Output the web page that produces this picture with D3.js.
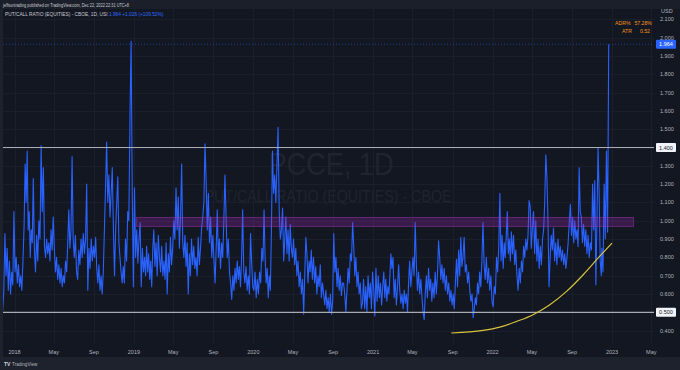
<!DOCTYPE html>
<html>
<head>
<meta charset="utf-8">
<script src="https://cdn.jsdelivr.net/npm/d3@7/dist/d3.min.js"></script>
<style>
html,body{margin:0;padding:0;background:#131722;}
svg{display:block;}
text{font-family:"Liberation Sans","DejaVu Sans",Arial,sans-serif;}
</style>
</head>
<body>
<svg id="chart" width="680" height="370"></svg>
<script>
// ---------------- DATA (PCCE, values, ~2 per week) ----------------
const pcce2017 = [ // starts Nov 2017
  [0.72,0.64,0.78,0.66,0.74,0.60,0.70,0.51,0.62],
  [0.93,0.70,0.85,0.62,0.78,0.60,0.72,0.65,1.05]
];
const pcce2018 = [
  [0.72,0.80,0.66,0.76,0.64,0.70,0.62,0.78,0.97],
  [1.31,1.10,1.38,0.95,1.05,0.80,0.95,0.88,1.23],
  [0.85,0.72,0.92,0.78,1.00,0.90,1.41,1.05,1.29],
  [0.86,0.80,0.90,0.82,0.88,0.78,0.95,0.84,1.02],
  [0.85,0.72,0.80,0.68,0.76,0.66,0.74,0.64,0.70],
  [0.66,0.78,0.72,0.88,1.06,0.85,0.95,1.35,0.90],
  [0.80,0.92,0.72,0.68,0.84,0.76,0.90,0.80,0.93],
  [0.82,0.90,1.20,0.62,0.85,0.74,0.90,0.78,0.86],
  [0.80,0.91,0.74,0.66,0.76,0.62,0.70,0.60,0.72],
  [0.95,1.18,1.43,1.10,1.25,1.02,1.15,1.29,0.95],
  [0.70,0.95,1.10,1.24,0.88,0.80,0.72,0.66,0.75],
  [0.66,0.90,0.78,1.05,1.00,1.57,1.98,1.15,0.64]
];
const pcce2019 = [
  [1.18,0.80,0.95,0.77,0.90,0.99,0.64,0.85,0.72],
  [0.80,0.70,0.86,0.72,0.82,0.68,0.78,0.64,0.84],
  [0.95,0.75,0.88,0.70,0.92,0.80,0.72,0.86,0.70],
  [0.78,0.68,0.88,0.60,0.82,0.72,0.91,0.76,0.85],
  [1.00,0.90,1.18,0.95,1.13,0.85,1.02,1.31,0.88],
  [0.80,0.92,0.75,0.88,0.60,0.82,0.70,0.90,0.76],
  [0.86,0.74,0.80,0.70,0.91,0.76,0.85,0.96,1.02],
  [1.10,1.42,1.22,0.95,1.15,0.88,1.02,0.80,0.92],
  [0.78,0.66,0.85,1.06,0.80,0.90,0.74,0.88,0.80],
  [1.00,1.25,1.02,0.80,0.90,0.72,0.66,0.57,0.70],
  [0.62,0.74,0.66,0.78,0.68,0.75,0.64,0.80,1.06],
  [0.72,0.66,0.75,0.62,0.70,0.60,0.93,0.77,0.64]
];
const pcce2020 = [
  [0.62,0.72,0.58,0.68,0.60,0.72,0.66,0.85,0.78],
  [1.06,0.80,0.66,0.74,0.58,0.70,0.62,0.95,1.38],
  [1.15,1.25,1.10,1.30,1.51,1.05,0.90,0.95,1.07],
  [0.78,0.90,1.02,0.82,0.95,0.78,0.98,0.85,0.80],
  [0.90,0.76,0.85,0.70,0.78,0.64,0.72,0.60,0.68],
  [0.49,0.70,0.91,0.82,0.66,0.78,0.72,0.84,0.68],
  [0.80,0.66,0.75,0.60,0.70,0.64,0.76,0.58,0.66],
  [0.60,0.54,0.62,0.52,0.58,0.50,0.60,0.49,0.56],
  [0.93,0.72,0.80,0.64,0.74,0.62,0.70,0.59,0.66],
  [0.66,0.60,0.50,0.62,0.74,0.66,0.82,0.78,0.99],
  [0.86,0.70,0.80,0.64,0.72,0.60,0.66,0.52,0.55],
  [0.68,0.52,0.64,0.50,0.70,0.58,0.66,0.52,0.72]
];
const pcce2021 = [
  [0.62,0.48,0.74,0.56,0.70,0.58,0.66,0.54,0.64],
  [0.72,0.58,0.68,0.56,0.64,0.60,0.70,0.82,0.74],
  [0.80,0.58,0.68,0.54,0.64,0.76,0.62,0.55,0.60],
  [0.52,0.62,0.55,0.60,0.50,0.66,0.78,0.64,0.72],
  [0.80,0.70,0.99,0.76,0.62,0.72,0.60,0.68,0.58],
  [0.50,0.46,0.60,0.70,0.58,0.74,0.62,0.68,0.56],
  [0.66,0.58,0.72,0.60,0.70,0.89,0.80,0.68,0.76],
  [0.66,0.74,0.62,0.70,0.60,0.66,0.56,0.62,0.54],
  [0.60,0.52,0.66,0.79,0.64,0.84,0.70,0.91,0.75],
  [0.80,0.91,0.72,0.76,0.66,0.72,0.62,0.56,0.60],
  [0.47,0.52,0.58,0.54,0.66,0.60,0.72,0.64,0.78],
  [0.99,0.76,0.68,0.80,0.66,0.74,0.62,0.70,0.56]
];
const pcce2022 = [
  [0.53,0.64,0.60,0.80,0.72,0.86,1.15,0.78,0.92],
  [0.74,0.88,0.80,0.92,1.05,0.82,0.90,0.78,0.94],
  [0.82,0.92,0.76,0.84,0.70,0.62,0.74,0.66,0.78],
  [0.72,0.86,0.80,0.90,0.84,0.92,1.11,1.08,0.85],
  [0.96,1.05,0.82,1.00,0.78,0.90,0.74,0.86,0.76],
  [0.90,0.95,1.10,1.36,1.24,1.00,0.64,0.80,0.92],
  [0.84,0.96,0.78,0.88,0.76,0.90,0.80,0.86,0.78],
  [0.84,0.76,0.82,0.74,0.80,0.88,0.99,1.09,0.92],
  [1.02,0.88,1.00,0.90,0.95,0.86,1.29,1.05,1.02],
  [0.88,0.98,0.86,0.95,0.82,0.92,0.80,0.88,0.84],
  [1.20,0.95,1.22,0.65,1.00,1.40,1.15,0.78,0.70],
  [0.85,0.72,1.20,0.90,1.38,0.938,1.964]   // Dec 1 .. Dec 22
];
const seriesYears = [
  {year: 2017, firstMonth: 10, months: pcce2017},
  {year: 2018, firstMonth: 0, months: pcce2018},
  {year: 2019, firstMonth: 0, months: pcce2019},
  {year: 2020, firstMonth: 0, months: pcce2020},
  {year: 2021, firstMonth: 0, months: pcce2021},
  {year: 2022, firstMonth: 0, months: pcce2022}
];
const lastDate = new Date(2022, 11, 22);
const lastValue = 1.964;

// drawings
const levelLines = [1.4, 0.5];
const levelLabels = ["1.400", "0.500"];
const bandValues = [0.969, 1.018];
const bandDates = ["2019-01-09", "2023-03-08"];
const arcDates = ["2021-08-28","2021-12-03","2022-01-23","2022-03-15","2022-05-05","2022-06-25","2022-08-15","2022-10-05","2022-11-24","2023-01-01"];
const arcValues = [0.387,0.401,0.419,0.450,0.487,0.541,0.614,0.705,0.805,0.878];

// axes
const priceTicks = [2.1,2.0,1.9,1.8,1.7,1.6,1.5,1.4,1.3,1.2,1.1,1.0,0.9,0.8,0.7,0.6,0.5,0.4];
const timeTicks = ["2018-01-01","2018-05-01","2018-09-01","2019-01-01","2019-05-01","2019-09-01","2020-01-01","2020-05-01","2020-09-01","2021-01-01","2021-05-01","2021-09-01","2022-01-01","2022-05-01","2022-09-01","2023-01-01","2023-05-01"];
const timeTickLabels = ["2018","May","Sep","2019","May","Sep","2020","May","Sep","2021","May","Sep","2022","May","Sep","2023","May"];

// ---------------- BUILD ----------------
const parse = d3.timeParse("%Y-%m-%d");
const points = [];
seriesYears.forEach(({year, firstMonth, months}) => {
  months.forEach((vals, k) => {
    const m = firstMonth + k;
    const start = new Date(year, m, 1);
    const next = new Date(year, m + 1, 1);
    const isLast = year === lastDate.getFullYear() && m === lastDate.getMonth();
    vals.forEach((v, i) => {
      const d = isLast
        ? new Date(+start + (lastDate - start) * (i / (vals.length - 1)))
        : new Date(+start + (next - start) * (i + 0.5) / vals.length);
      points.push({d, v});
    });
  });
});

const W = 680, H = 370;
const pane = {x0: 3, x1: 654, y0: 9, y1: 343};
const x = d3.scaleTime().domain([new Date(2018,0,1), new Date(2023,0,1)]).range([14.5, 612]);
const y = d3.scaleLinear().domain([0.5, 1.4]).range([312.3, 147.5]);

const svg = d3.select("#chart");
svg.append("rect").attr("width", W).attr("height", H).attr("fill", "#131722");
svg.append("rect").attr("x",0).attr("y",0).attr("width",W).attr("height",pane.y0).attr("fill","#1b1f2a");
svg.append("rect").attr("x",0).attr("y",357).attr("width",W).attr("height",13).attr("fill","#1e222d");
svg.append("rect").attr("x",0).attr("y",pane.y0).attr("width",pane.x0).attr("height",357-pane.y0).attr("fill","#1e222d");

svg.append("defs").append("clipPath").attr("id","pane")
  .append("rect").attr("x",pane.x0).attr("y",pane.y0).attr("width",pane.x1-pane.x0).attr("height",pane.y1-pane.y0);

const g = svg.append("g").attr("clip-path","url(#pane)");

// grid
g.selectAll("line.hg").data(priceTicks).join("line")
  .attr("x1",pane.x0).attr("x2",pane.x1)
  .attr("y1",d=>Math.round(y(d))+0.5).attr("y2",d=>Math.round(y(d))+0.5)
  .attr("stroke","#1b1f2b").attr("stroke-width",1);
g.selectAll("line.vg").data(timeTicks).join("line")
  .attr("x1",d=>Math.round(x(parse(d)))+0.5).attr("x2",d=>Math.round(x(parse(d)))+0.5)
  .attr("y1",pane.y0).attr("y2",pane.y1)
  .attr("stroke","#1b1f2b").attr("stroke-width",1);

// watermark
g.append("text").attr("x",331).attr("y",175).attr("text-anchor","middle")
  .attr("font-size",32).attr("fill","#20242f").attr("textLength",125).attr("lengthAdjust","spacingAndGlyphs")
  .text("PCCE, 1D");
g.append("text").attr("x",328).attr("y",202).attr("text-anchor","middle")
  .attr("font-size",16).attr("fill","#20242f").attr("textLength",247).attr("lengthAdjust","spacingAndGlyphs")
  .text("PUT/CALL RATIO (EQUITIES) - CBOE");

// last price dotted line
g.append("line").attr("x1",pane.x0).attr("x2",pane.x1)
  .attr("y1",y(lastValue)).attr("y2",y(lastValue))
  .attr("stroke","#2962ff").attr("stroke-opacity",0.55).attr("stroke-dasharray","1,2").attr("stroke-width",1);

// series line
const line = d3.line().x(p=>x(p.d)).y(p=>y(p.v));
g.append("path").datum(points).attr("d",line)
  .attr("fill","none").attr("stroke","#2962ff").attr("stroke-width",1.1).attr("stroke-linejoin","round");

// purple band
g.append("rect")
  .attr("x", x(parse(bandDates[0]))).attr("width", x(parse(bandDates[1])) - x(parse(bandDates[0])))
  .attr("y", y(bandValues[1])).attr("height", y(bandValues[0]) - y(bandValues[1]))
  .attr("fill","rgba(156,39,176,0.28)").attr("stroke","rgba(170,60,190,0.45)").attr("stroke-width",1);

// level lines
g.selectAll("line.lvl").data(levelLines).join("line")
  .attr("x1",pane.x0).attr("x2",pane.x1)
  .attr("y1",d=>y(d)).attr("y2",d=>y(d))
  .attr("stroke","#a9acb5").attr("stroke-width",1.2);

// yellow arc
const arc = d3.line().curve(d3.curveMonotoneX).x((d,i)=>x(parse(d))).y((d,i)=>y(arcValues[i]));
g.append("path").datum(arcDates).attr("d",arc)
  .attr("fill","none").attr("stroke","#d6c33c").attr("stroke-width",1.2);

// ADR / ATR table
const tbl = svg.append("g");
tbl.append("text").attr("x",615).attr("y",25).attr("font-size",5.2).attr("fill","#f7931a").text("ADR%");
tbl.append("text").attr("x",652).attr("y",25).attr("text-anchor","end").attr("font-size",5.2).attr("fill","#f7931a").text("57.28%");
tbl.append("text").attr("x",622).attr("y",33).attr("font-size",5.2).attr("fill","#f7931a").text("ATR");
tbl.append("text").attr("x",650).attr("y",33).attr("text-anchor","end").attr("font-size",5.2).attr("fill","#f7931a").text("0.52");

// header texts
svg.append("text").attr("x",3).attr("y",6.5).attr("font-size",4.8).attr("fill","#c8cad0")
  .attr("textLength",126).attr("lengthAdjust","spacingAndGlyphs")
  .text("jeffsuntrading published on TradingView.com, Dec 22, 2022 22:31 UTC+8");
const leg = svg.append("text").attr("x",5).attr("y",15.5).attr("font-size",4.8);
leg.append("tspan").attr("fill","#c8cad0").text("PUT/CALL RATIO (EQUITIES) - CBOE, 1D, USI  ");
leg.append("tspan").attr("fill","#2f6bff").text("1.964  +1.026 (+109.52%)");

// price axis
const pax = svg.append("g");
pax.append("text").attr("x",661).attr("y",13).attr("font-size",5.5).attr("fill","#b2b5be").text("USD");
pax.selectAll("text.pt").data(priceTicks).join("text")
  .attr("x",660).attr("y",d=>y(d)+2).attr("font-size",5.5).attr("fill","#b2b5be")
  .text(d=>d3.format(".3f")(d));
levelLines.forEach((v,i)=>{
  pax.append("rect").attr("x",656).attr("y",y(v)-4.5).attr("width",20).attr("height",9).attr("rx",1).attr("fill","#f0f3fa");
  pax.append("text").attr("x",666).attr("y",y(v)+2).attr("text-anchor","middle").attr("font-size",5.5).attr("fill","#131722").text(levelLabels[i]);
});
pax.append("rect").attr("x",656).attr("y",y(lastValue)-4.5).attr("width",20).attr("height",9).attr("rx",1).attr("fill","#2962ff");
pax.append("text").attr("x",666).attr("y",y(lastValue)+2).attr("text-anchor","middle").attr("font-size",5.5).attr("fill","#ffffff").text(d3.format(".3f")(lastValue));

// time axis
const tax = svg.append("g");
tax.selectAll("text.tt").data(timeTicks).join("text")
  .attr("x",d=>x(parse(d))).attr("y",354).attr("text-anchor","middle")
  .attr("font-size",5.5).attr("fill","#b2b5be")
  .text((d,i)=>timeTickLabels[i]);

// TradingView logo
svg.append("text").attr("x",4).attr("y",366).attr("font-size",5).attr("font-weight","bold").attr("fill","#d1d4dc").text("TV");
svg.append("text").attr("x",12).attr("y",366).attr("font-size",4.6).attr("fill","#b2b5be").text("TradingView");
</script>
</body>
</html>
